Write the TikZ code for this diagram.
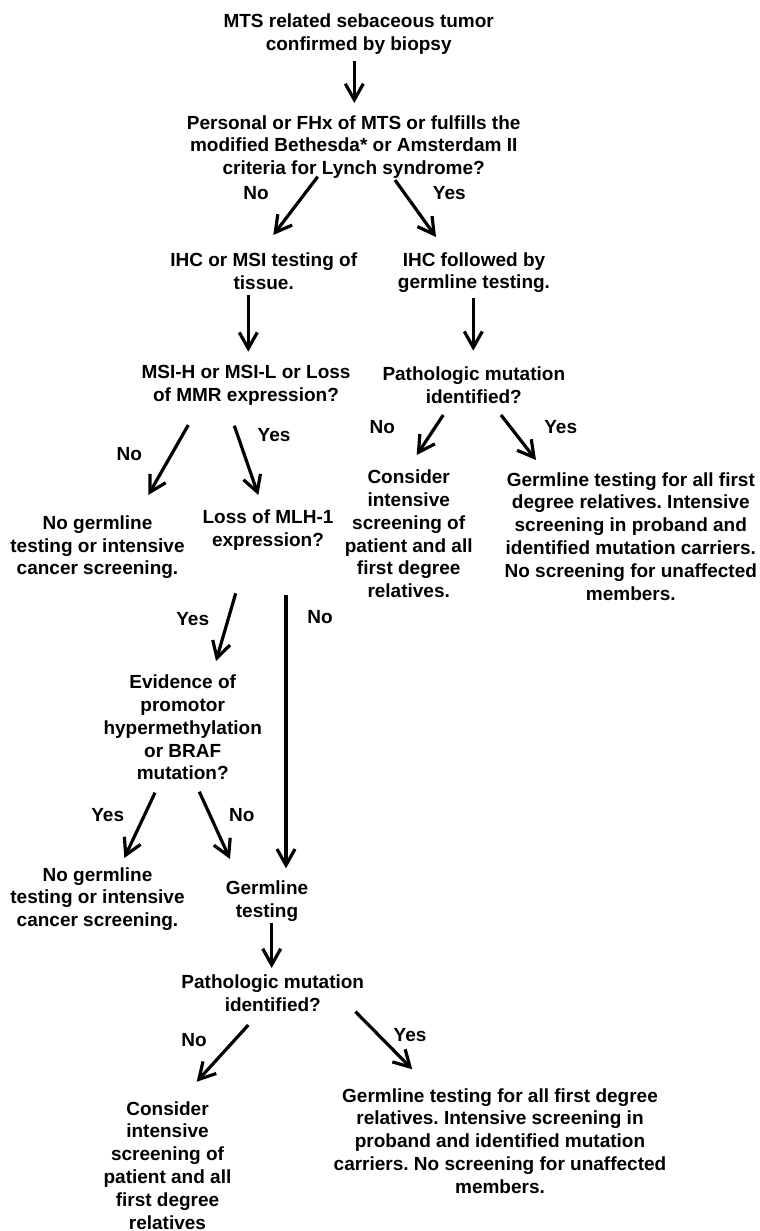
\documentclass[tikz,border=0pt]{standalone}
\usepackage{fontspec}
\setmainfont{Liberation Sans}
\usetikzlibrary{arrows.meta}
\frenchspacing
\begin{document}
\begin{tikzpicture}[x=1pt,y=-1pt,
  txt/.style={font=\fontsize{19}{22.8}\selectfont\bfseries, align=center, inner sep=0pt, anchor=base},
  lbl/.style={font=\fontsize{19}{22.8}\selectfont\bfseries, inner sep=0pt},
  arr/.style={line width=3.2pt, -{Straight Barb[length=16pt,width=18pt]}}
]
\useasboundingbox[fill=white] (0,0) rectangle (760,1231);

% text blocks (anchor = baseline of the last line)
\node[txt] (top) at (358.7,50.8) {MTS related sebaceous tumor\\confirmed by biopsy};
\node[txt] (q1) at (353.7,174.6) {Personal or FHx of MTS or fulfills the\\modified Bethesda* or Amsterdam II\\criteria for Lynch syndrome?};
\node[txt] (ihcmsi) at (263.7,289.1) {IHC or MSI testing of\\tissue.};
\node[txt] (ihcgerm) at (474,288.8) {IHC followed by\\germline testing.};
\node[txt] (msi) at (246,401.5) {MSI-H or MSI-L or Loss\\of MMR expression?};
\node[txt] (path1) at (473.8,403.1) {Pathologic mutation\\identified?};
\node[txt] (nogerm1) at (97.5,574.9) {No germline\\testing or intensive\\cancer screening.};
\node[txt] (mlh) at (268,546.5) {Loss of MLH-1\\expression?};
\node[txt] (consider1) at (408.7,597.7) {Consider\\intensive\\screening of\\patient and all\\first degree\\relatives.};
\node[txt] (germall1) at (630.8,600) {Germline testing for all first\\degree relatives. Intensive\\screening in proband and\\identified mutation carriers.\\No screening for unaffected\\members.};
\node[txt] (evidence) at (182.7,779.9) {Evidence of\\promotor\\hypermethylation\\or BRAF\\mutation?};
\node[txt] (nogerm2) at (97.5,926.6) {No germline\\testing or intensive\\cancer screening.};
\node[txt] (germtest) at (267,917.5) {Germline\\testing};
\node[txt] (path2) at (272.8,1011.5) {Pathologic mutation\\identified?};
\node[txt] (consider2) at (167.5,1229) {Consider\\intensive\\screening of\\patient and all\\first degree\\relatives};
\node[txt] (germall2) at (500,1193.2) {Germline testing for all first degree\\relatives. Intensive screening in\\proband and identified mutation\\carriers. No screening for unaffected\\members.};

% labels
\node[lbl] (l1) at (256,193) {No};
\node[lbl] (l2) at (449.3,192.7) {Yes};
\node[lbl] (l3) at (129.3,454) {No};
\node[lbl] (l4) at (274,435) {Yes};
\node[lbl] (l5) at (382.3,427.3) {No};
\node[lbl] (l6) at (560.7,426.7) {Yes};
\node[lbl] (l7) at (192.7,619) {Yes};
\node[lbl] (l8) at (320,617.3) {No};
\node[lbl] (l9) at (107.7,815) {Yes};
\node[lbl] (l10) at (241.7,815) {No};
\node[lbl] (l11) at (194,1040) {No};
\node[lbl] (l12) at (410,1035) {Yes};

% connectors
\draw[arr] ([shift={(-4.4,10.2)}]top.base) -- ([shift={(0.6,-71.6)}]q1.base);
\draw[arr] ([shift={(-36,2.1)}]q1.base) -- ([shift={(9.6,-54.1)}]ihcmsi.base);
\draw[arr] ([shift={(41.3,5.4)}]q1.base) -- ([shift={(-38,-51.8)}]ihcgerm.base);
\draw[arr] ([shift={(-15.4,5.9)}]ihcmsi.base) -- ([shift={(2.3,-49.8)}]msi.base);
\draw[arr] ([shift={(-0.7,9.2)}]ihcgerm.base) -- ([shift={(-0.5,-52.4)}]path1.base);
\draw[arr] ([shift={(-57.7,23.5)}]msi.base) -- ([shift={(50.8,-79.9)}]nogerm1.base);
\draw[arr] ([shift={(-11.7,24.2)}]msi.base) -- ([shift={(-9.7,-51.5)}]mlh.base);
\draw[arr] ([shift={(-30.5,11.9)}]path1.base) -- ([shift={(8,-142.7)}]consider1.base);
\draw[arr] ([shift={(27.2,11.9)}]path1.base) -- ([shift={(-94.8,-140)}]germall1.base);
\draw[arr] ([shift={(-32.3,46.8)}]mlh.base) -- ([shift={(33.3,-118.9)}]evidence.base);
\draw[arr] ([shift={(18,48.5)}]mlh.base) -- ([shift={(19,-49.2)}]germtest.base);
\draw[arr] ([shift={(-27.7,12.8)}]evidence.base) -- ([shift={(26.8,-68.6)}]nogerm2.base);
\draw[arr] ([shift={(16.6,11.8)}]evidence.base) -- ([shift={(-37,-58.5)}]germtest.base);
\draw[arr] ([shift={(4.7,5.2)}]germtest.base) -- ([shift={(-1.1,-43.5)}]path2.base);
\draw[arr] ([shift={(-24.5,13.5)}]path2.base) -- ([shift={(29.2,-147.3)}]consider2.base);
\draw[arr] ([shift={(82.7,0.2)}]path2.base) -- ([shift={(-87.7,-123.9)}]germall2.base);
\end{tikzpicture}
\end{document}
